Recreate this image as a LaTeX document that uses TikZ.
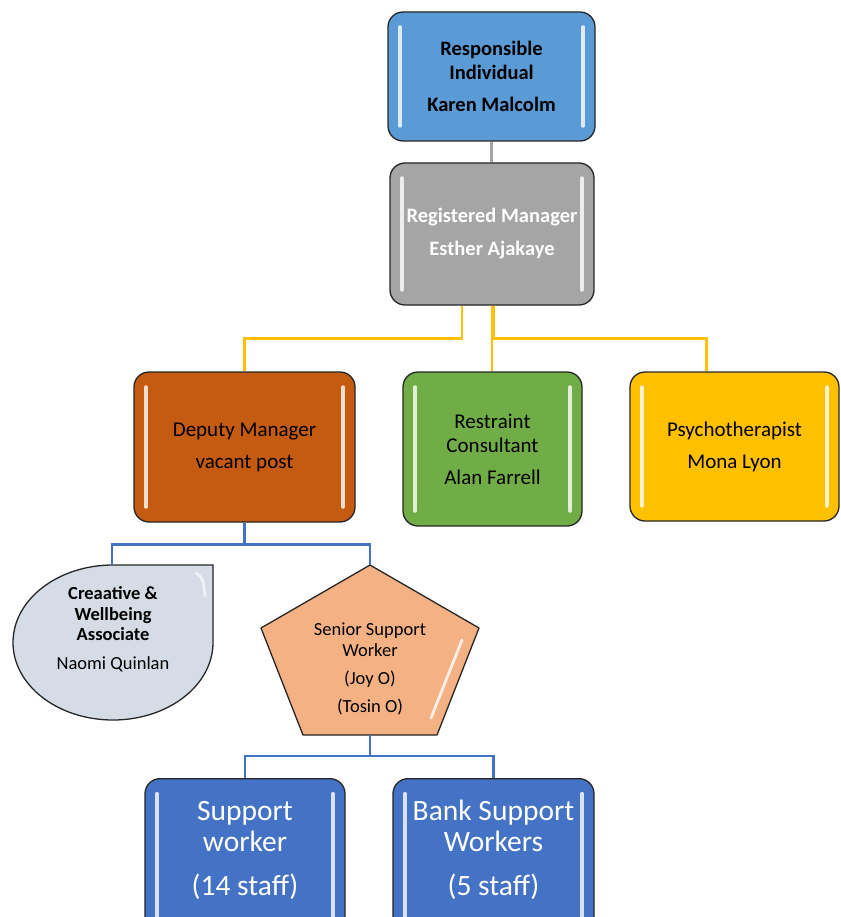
\documentclass[tikz,border=0pt]{standalone}
\usepackage{fontspec}
\setmainfont{Carlito}
\usepackage{xcolor}
\usetikzlibrary{positioning, calc}

\definecolor{riblue}{HTML}{5B9BD5}
\definecolor{rmgrey}{HTML}{A5A5A5}
\definecolor{dmorange}{HTML}{C55A11}
\definecolor{rcgreen}{HTML}{70AD47}
\definecolor{psgold}{HTML}{FFC000}
\definecolor{cwagrey}{HTML}{D6DCE5}
\definecolor{sswpeach}{HTML}{F4B183}
\definecolor{swblue}{HTML}{4472C4}

\begin{document}
\begin{tikzpicture}[
  x=1pt, y=1pt,
  every node/.style={align=center, inner sep=0pt},
  gloss/.style={path picture={
      \draw[white, opacity=0.8, line width=3.5pt, line cap=round]
        ([xshift=12pt, yshift=-15pt]path picture bounding box.north west) --
        ([xshift=12pt, yshift=15pt]path picture bounding box.south west);
      \draw[white, opacity=0.8, line width=3.5pt, line cap=round]
        ([xshift=-12pt, yshift=-15pt]path picture bounding box.north east) --
        ([xshift=-12pt, yshift=15pt]path picture bounding box.south east);
  }},
  box/.style={draw=black!85, line width=1.3pt, rounded corners=15pt, gloss},
  big/.style={font=\fontsize{21}{24}\selectfont},
  bigbold/.style={font=\bfseries\fontsize{20.5}{24}\selectfont},
  mid/.style={font=\fontsize{18.5}{20.5}\selectfont},
  huge/.style={font=\fontsize{29.5}{31}\selectfont, text=white},
  yline/.style={psgold, line width=2.5pt},
  bline/.style={swblue, line width=2.8pt},
  gline/.style={rmgrey, line width=3pt},
]
  \clip (0,0) rectangle (840,-917);

  % top of the chart
  \node[box, fill=riblue, minimum width=207pt, minimum height=129pt, bigbold]
        (ri) at (491.5,-76.5) {Responsible\\Individual\\[8pt]Karen Malcolm};
  \node[box, fill=rmgrey, minimum width=204pt, minimum height=142pt, bigbold,
        text=white] (rm) at (492,-234) {Registered Manager\\[9pt]Esther Ajakaye};

  \node[box, fill=dmorange, minimum width=221pt, minimum height=150pt, big]
        (dm) at (244.5,-447) {Deputy Manager\\[8pt]vacant post};
  \node[box, fill=rcgreen, minimum width=179pt, minimum height=154pt, big]
        (rc) at (492.5,-449) {Restraint\\Consultant\\[8pt]Alan Farrell};
  \node[box, fill=psgold, minimum width=209pt, minimum height=149pt, big]
        (ps) at (734.5,-446.5) {Psychotherapist\\[8pt]Mona Lyon};

  \draw[gline] (ri.south) -- (ri.south |- rm.north);
  \draw[yline] ([xshift=-30pt]rm.south) -- ++(0,-33) -| (dm.north);
  \draw[yline] (rm.south) -- (rm.south |- rc.north);
  \draw[yline] ([xshift=2pt]rm.south) -- ++(0,-33) -| ([xshift=-28pt]ps.north);

  % teardrop and pentagon under the deputy
  \coordinate (cwa-top) at (112,-565);
  \draw[draw=black!85, line width=1.3pt, fill=cwagrey]
        (213,-565) -- (113,-565)
        arc[start angle=90, end angle=360, x radius=100pt, y radius=77.5pt]
        -- cycle;
  \draw[white, opacity=0.7, line width=2.5pt, line cap=round]
        (196,-573) .. controls (203,-578) .. (205,-596);
  \node[mid] (cwa) at (113,-629)
        {\textbf{Creaative \&}\\\textbf{Wellbeing}\\\textbf{Associate}\\[8pt]Naomi Quinlan};

  \coordinate (ssw-top) at (370,-565);
  \coordinate (ssw-bot) at (370,-735);
  \draw[draw=black!85, line width=1.3pt, fill=sswpeach, line join=round]
        (ssw-top) -- (479,-628) -- (437,-735) -- (303,-735) -- (261,-628) -- cycle;
  \draw[white, opacity=0.8, line width=2.8pt, line cap=round]
        (462,-640) -- (431,-718);
  \node[mid] (ssw) at (370,-669)
        {Senior Support\\Worker\\[8pt](Joy O)\\[7pt](Tosin O)};

  \draw[bline] (dm.south) -- ++(0,-22) -| (cwa-top);
  \draw[bline] (dm.south) -- ++(0,-22) -| (ssw-top);

  % support staff
  \node[box, fill=swblue, minimum width=200pt, minimum height=160pt,
        anchor=north] (sw) at (245,-778) {};
  \node[huge] (sw-txt) at (245,-850) {Support\\worker\\[13pt](14 staff)};
  \node[box, fill=swblue, minimum width=201pt, minimum height=160pt,
        anchor=north] (bsw) at (493.5,-778) {};
  \node[huge] (bsw-txt) at (493.5,-850) {Bank Support\\Workers\\[13pt](5 staff)};

  \draw[bline] (ssw-bot) -- ++(0,-21) -| (sw.north);
  \draw[bline] (ssw-bot) -- ++(0,-21) -| (bsw.north);
\end{tikzpicture}
\end{document}
